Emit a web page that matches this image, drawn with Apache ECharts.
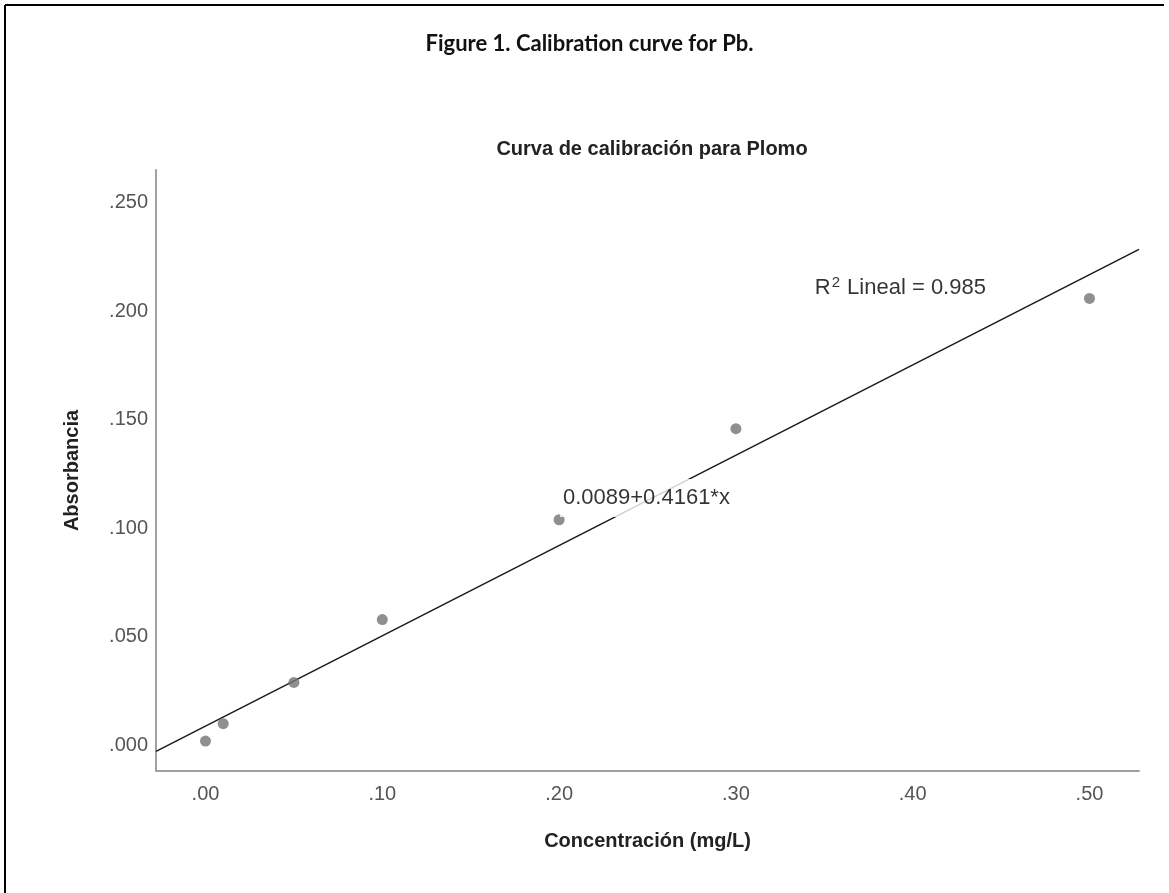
<!DOCTYPE html>
<html>
<head>
<meta charset="utf-8">
<script src="https://cdn.jsdelivr.net/npm/echarts@6/dist/echarts.min.js"></script>
<style>
html,body{margin:0;padding:0;background:#fff;}
#chart{width:1169px;height:893px;}
</style>
</head>
<body>
<div id="chart"></div>
<script>
// Data
const concentration = [0, 0.01, 0.05, 0.10, 0.20, 0.30, 0.50];
const absorbance   = [0.002, 0.010, 0.029, 0.058, 0.104, 0.146, 0.206];
const fitIntercept = 0.0089;
const fitSlope = 0.4161;
const rSquared = '0.985';
const xTickValues = [0, 0.1, 0.2, 0.3, 0.4, 0.5];
const xTickLabels = ['.00', '.10', '.20', '.30', '.40', '.50'];
const yTickValues = [0, 0.05, 0.10, 0.15, 0.20, 0.25];
const yTickLabels = ['.000', '.050', '.100', '.150', '.200', '.250'];
const xRange = [-0.028, 0.528];
const yRange = [-0.0118, 0.2652];
const eqLabelPos = [0.2494, 0.114];
const r2LabelPos = [0.3446, 0.2108];

const pick = (vals, labels) => v => {
  const i = vals.findIndex(t => Math.abs(t - v) < 1e-9);
  return i >= 0 ? labels[i] : '';
};

const fitLine = [
  [xRange[0], fitIntercept + fitSlope * xRange[0]],
  [xRange[1], fitIntercept + fitSlope * xRange[1]]
];

const chart = echarts.init(document.getElementById('chart'), null, {renderer: 'canvas'});
chart.setOption({
  animation: false,
  backgroundColor: '#fff',
  title: [{
    text: 'Figure 1. Calibration curve for Pb.',
    left: 584.5, top: 28, textAlign: 'center',
    textStyle: {fontFamily: 'Lato', fontWeight: 'bold', fontSize: 22, color: '#111'}
  }, {
    text: 'Curva de calibración para Plomo',
    left: 647, top: 134, textAlign: 'center',
    textStyle: {fontFamily: 'Liberation Sans, Arial', fontWeight: 'bold', fontSize: 20, color: '#222'}
  }],
  graphic: [
    {type: 'line', shape: {x1: 5, y1: 5, x2: 1164, y2: 5}, style: {stroke: '#000', lineWidth: 2}},
    {type: 'line', shape: {x1: 5, y1: 5, x2: 5, y2: 893}, style: {stroke: '#000', lineWidth: 2}}
  ],
  grid: {left: 156, top: 170, right: 30, bottom: 122, containLabel: false},
  xAxis: {
    type: 'value', min: xRange[0], max: xRange[1],
    name: 'Concentración (mg/L)', nameLocation: 'middle', nameGap: 60,
    nameTextStyle: {fontFamily: 'Liberation Sans, Arial', fontWeight: 'bold', fontSize: 20, color: '#222'},
    axisLine: {show: true, onZero: false, lineStyle: {color: '#a0a0a0', width: 2}},
    axisTick: {show: false},
    splitLine: {show: false},
    axisLabel: {
      customValues: xTickValues, formatter: pick(xTickValues, xTickLabels),
      fontFamily: 'Liberation Sans, Arial', fontSize: 20, color: '#555', margin: 13
    }
  },
  yAxis: {
    type: 'value', min: yRange[0], max: yRange[1],
    name: 'Absorbancia', nameLocation: 'middle', nameGap: 74, nameRotate: 90,
    nameTextStyle: {fontFamily: 'Liberation Sans, Arial', fontWeight: 'bold', fontSize: 20, color: '#222'},
    axisLine: {show: true, onZero: false, lineStyle: {color: '#a0a0a0', width: 2}},
    axisTick: {show: false},
    splitLine: {show: false},
    axisLabel: {
      customValues: yTickValues, formatter: pick(yTickValues, yTickLabels),
      fontFamily: 'Liberation Sans, Arial', fontSize: 20, color: '#555', margin: 8
    }
  },
  series: [{
    type: 'line', data: fitLine, showSymbol: false, z: 2, silent: true,
    lineStyle: {color: '#1a1a1a', width: 1.5}
  }, {
    type: 'scatter', data: concentration.map((c, i) => [c, absorbance[i]]),
    symbolSize: 11, z: 3, silent: true,
    itemStyle: {color: '#737373'}
  }, {
    type: 'scatter', data: [eqLabelPos], symbolSize: 0, z: 10, zlevel: 1, silent: true,
    label: {
      show: true, position: 'inside', formatter: fitIntercept + '+' + fitSlope + '*x',
      fontFamily: 'Liberation Sans, Arial', fontSize: 22, color: '#000',
      backgroundColor: '#fff', padding: [8, 3]
    }
  }, {
    type: 'scatter', data: [r2LabelPos], symbolSize: 0, z: 10, zlevel: 1, silent: true,
    label: {
      show: true, position: 'right', distance: 0,
      formatter: '{r|R}{s|2}{r| Lineal = ' + rSquared + '}',
      rich: {
        r: {fontFamily: 'Liberation Sans, Arial', fontSize: 22, color: '#000', lineHeight: 26},
        s: {fontFamily: 'Liberation Sans, Arial', fontSize: 15, color: '#000', verticalAlign: 'top', lineHeight: 26, padding: [0, 1, 10, 1]}
      }
    }
  }]
});
</script>
</body>
</html>
